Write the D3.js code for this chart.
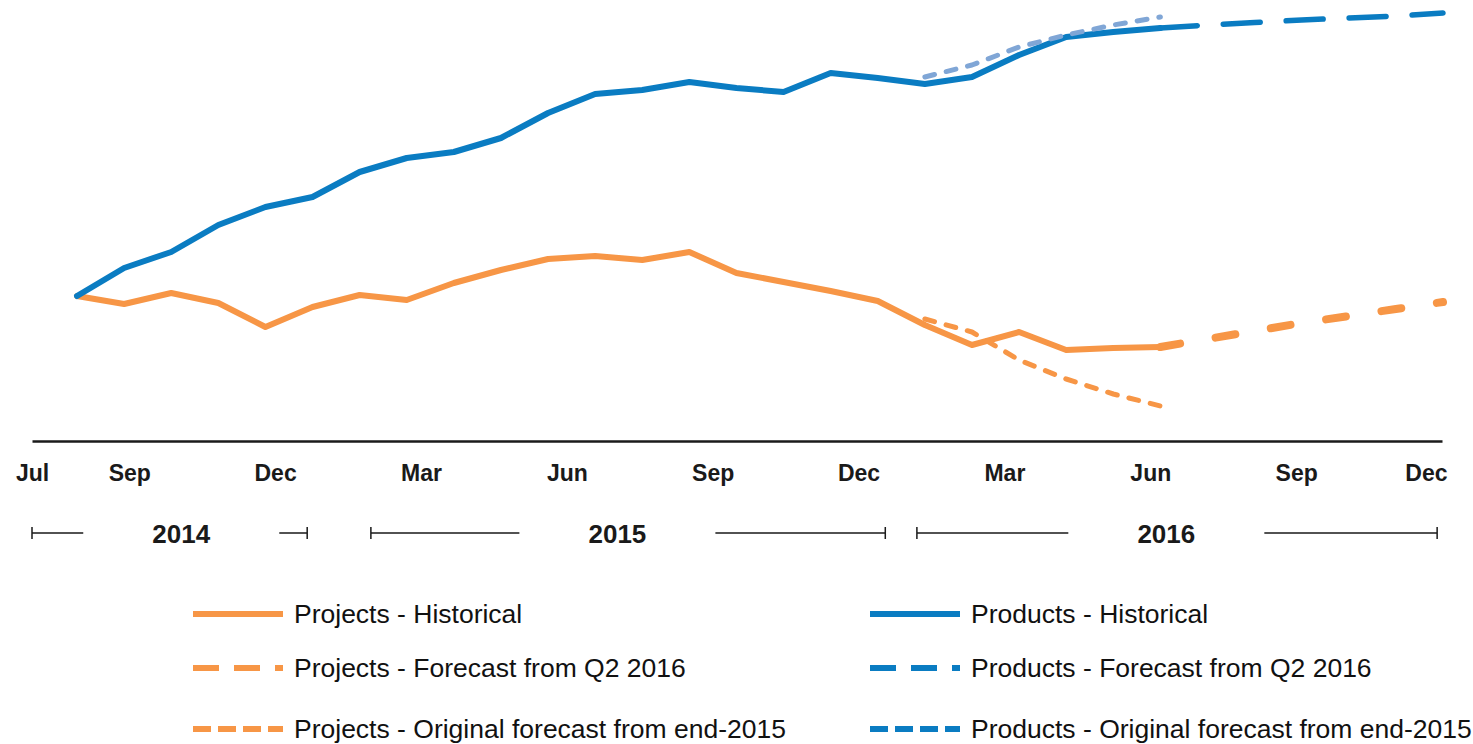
<!DOCTYPE html>
<html>
<head>
<meta charset="utf-8">
<script src="https://cdn.jsdelivr.net/npm/d3@7"></script>
<style>
  body { margin: 0; background: #fff; }
  svg { display: block; }
</style>
</head>
<body>
<div id="chart"></div>
<script>
// index values (start = 100), one point per month, Aug 2014 -> Jan 2017
const projectsHist = [100, 96, 101.5, 96.5, 84.5, 94.5, 100.5, 98, 106.5, 113, 118.5, 120, 118, 122, 111.5, 107, 102.5, 97.5, 85.5, 75.5, 82, 73, 74, 74.5];
const productsHist = [100, 114, 122, 135.5, 144.5, 149.5, 162, 169, 172, 179, 191.5, 201, 203, 207, 204, 202, 211.5, 209, 206, 209.5, 220.5, 229.5, 232, 234];
const projectsQ2 = [74.5, 78.5, 82.5, 86.5, 90, 93.5, 97];        // from point 23
const productsQ2 = [234, 235.5, 236.75, 238, 239, 240, 241.5];    // from point 23
const projectsOrig = [88.5, 82, 68, 58.5, 51, 45];                // from point 18
const productsOrig = [209.5, 215.5, 224.5, 230.5, 235.5, 239.5];  // from point 18

// axis labels (months counted from Jul 2014)
const tickMonths = [0, 2, 5, 8, 11, 14, 17, 20, 23, 26, 29];
const tickLabels = ["Jul", "Sep", "Dec", "Mar", "Jun", "Sep", "Dec", "Mar", "Jun", "Sep", "Dec"];
const years = ["2014", "2015", "2016"];
const yearFrom = [0, 6.97, 18.2];
const yearTo = [5.66, 17.55, 28.9];
const yearMid = [3.07, 12.04, 23.33];

const legendLeft = ["Projects - Historical", "Projects - Forecast from Q2 2016", "Projects - Original forecast from end-2015"];
const legendRight = ["Products - Historical", "Products - Forecast from Q2 2016", "Products - Original forecast from end-2015"];

const width = 1473;
const height = 744;
const orange = "#F79646";
const blue = "#0A7CC2";
const lightBlue = "#80A6D6";

const svg = d3.select("#chart").append("svg")
  .attr("width", width)
  .attr("height", height)
  .attr("viewBox", [0, 0, width, height]);

const x = d3.scaleLinear().domain([0, 29]).range([77, 1443]);
const xm = d3.scaleLinear().domain([0, 29]).range([32, 1442]);
const y = d3.scaleLinear().domain([40, 245]).range([416, 6]);

const line = offset => d3.line()
  .x((d, i) => x(i + offset))
  .y(d => y(d));

function drawLine(data, offset, color, w, dash) {
  svg.append("path")
    .datum(data)
    .attr("fill", "none")
    .attr("stroke", color)
    .attr("stroke-width", w)
    .attr("stroke-linejoin", "round")
    .attr("stroke-linecap", "round")
    .attr("stroke-dasharray", dash)
    .attr("d", line(offset));
}

drawLine(projectsHist, 0, orange, 6, null);
drawLine(productsHist, 0, blue, 6, null);
drawLine(projectsQ2, 23, orange, 8, "20,36");
drawLine(productsQ2, 23, blue, 5.5, "37,26");
drawLine(projectsOrig, 18, orange, 5, "10,12");
drawLine(productsOrig, 18, lightBlue, 5, "10,12");

// x axis
const axis = svg.append("g")
  .attr("transform", "translate(0, 441)")
  .call(d3.axisBottom(xm)
    .tickValues(tickMonths)
    .tickFormat((d, i) => tickLabels[i])
    .tickSize(0)
    .tickSizeOuter(0));
axis.select(".domain").attr("stroke", "#1a1a1a").attr("stroke-width", 2.5);
axis.selectAll("text")
  .attr("y", 40)
  .attr("dy", 0)
  .attr("fill", "#1a1a1a")
  .style("font-family", "'Liberation Sans', Arial, sans-serif")
  .style("font-size", "23px")
  .style("font-weight", "bold");
axis.selectAll(".tick:last-of-type text").attr("text-anchor", "end").attr("dx", 5);

// year brackets
const yearY = 533;
const gap = 98;
const yg = svg.append("g").selectAll("g").data(years).join("g");
yg.append("path")
  .attr("fill", "none")
  .attr("stroke", "#1a1a1a")
  .attr("stroke-width", 1.5)
  .attr("d", (d, i) => {
    const a = xm(yearFrom[i]), b = xm(yearTo[i]), m = xm(yearMid[i]);
    return `M${a},${yearY - 6}V${yearY + 6}M${a},${yearY}H${m - gap}` +
      `M${m + gap},${yearY}H${b}M${b},${yearY - 6}V${yearY + 6}`;
  });
yg.append("text")
  .attr("x", (d, i) => xm(yearMid[i]))
  .attr("y", yearY + 10)
  .attr("text-anchor", "middle")
  .attr("fill", "#1a1a1a")
  .style("font-family", "'Liberation Sans', Arial, sans-serif")
  .style("font-size", "26px")
  .style("font-weight", "bold")
  .text(d => d);

// legend
const legendRows = [614, 668, 729];
const legendDash = [null, "26,15", "18,7"];
const legendCols = [
  { x: 193, names: legendLeft, color: orange },
  { x: 870, names: legendRight, color: blue }
];

legendCols.forEach(col => {
  const g = svg.append("g");
  g.selectAll("line")
    .data(col.names)
    .join("line")
    .attr("x1", col.x)
    .attr("x2", col.x + 90)
    .attr("y1", (d, i) => legendRows[i])
    .attr("y2", (d, i) => legendRows[i])
    .attr("stroke", col.color)
    .attr("stroke-width", 6)
    .attr("stroke-dasharray", (d, i) => legendDash[i]);
  g.selectAll("text")
    .data(col.names)
    .join("text")
    .attr("x", col.x + 101)
    .attr("y", (d, i) => legendRows[i])
    .attr("dy", "0.35em")
    .attr("fill", "#111")
    .style("font-family", "'Liberation Sans', Arial, sans-serif")
    .style("font-size", "26.5px")
    .text(d => d);
});
</script>
</body>
</html>
